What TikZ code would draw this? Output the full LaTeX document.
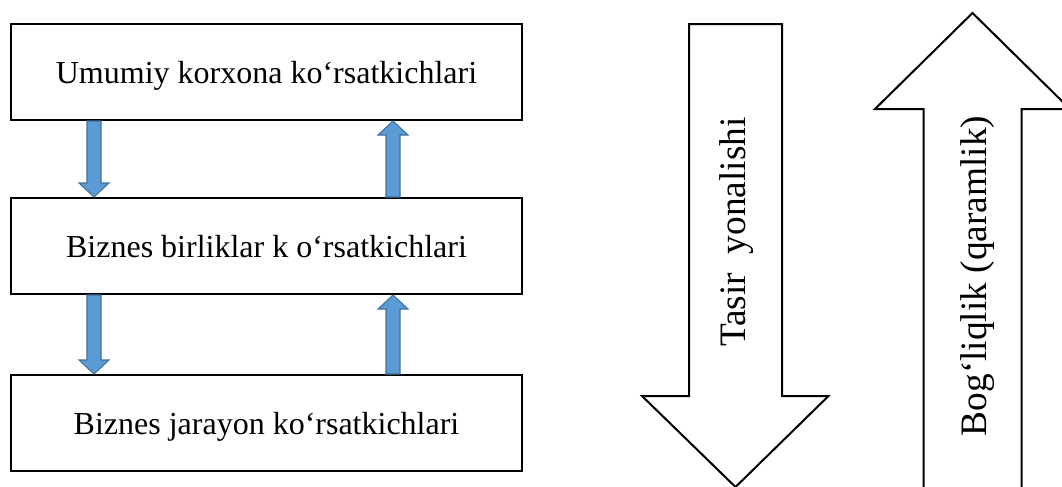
\documentclass[tikz,border=0pt]{standalone}
\usepackage{fontspec}
\setmainfont{Liberation Serif}
\usetikzlibrary{calc}
\tikzset{
  box/.style={draw=black, line width=1.5pt, fill=white, minimum width=383.25pt, minimum height=72pt, inner sep=0pt, text height=20pt, text depth=2.2pt, font=\fontsize{24}{28}\selectfont},
  barrow/.style={fill=arrowblue, draw=arrowedge, line width=0.8pt, line join=miter},
  bigarrow/.style={draw=black, line width=1.5pt, fill=white, line join=miter},
  biglabel/.style={rotate=90, inner sep=0pt, font=\fontsize{28}{32}\selectfont},
}
\definecolor{arrowblue}{HTML}{5B9BD5}
\definecolor{arrowedge}{HTML}{41719C}
\newcommand{\blockarrow}[2]{%
  \coordinate (ba-hb) at ($(#2)!10.5pt!(#1)$);
  \filldraw[barrow]
    ($(#1)!5.25pt!90:(#2)$) -- ($(ba-hb)!5.25pt!90:(#2)$) -- ($(ba-hb)!11.25pt!90:(#2)$)
    -- (#2) -- ($(ba-hb)!11.25pt!-90:(#2)$) -- ($(ba-hb)!5.25pt!-90:(#2)$)
    -- ($(#1)!5.25pt!-90:(#2)$) -- cycle;
}
\begin{document}
\begin{tikzpicture}[x=0.75pt, y=-0.75pt]
  \useasboundingbox (0,0) rectangle (1062,486);
  \clip (0,0) rectangle (1062,486);
  % boxes
  \node[box] (b1) at (266.5,72) {Umumiy korxona ko‘rsatkichlari};
  \node[box] (b2) at (266.5,246) {Biznes birliklar k o‘rsatkichlari};
  \node[box] (b3) at (266.5,423) {Biznes jarayon ko‘rsatkichlari};
  % columns for the small arrows
  \coordinate (cL) at (94,0);
  \coordinate (cR) at (393,0);
  \coordinate (d1s) at (b1.south -| cL);
  \coordinate (d1e) at (b2.north -| cL);
  \coordinate (u1s) at (b2.north -| cR);
  \coordinate (u1e) at (b1.south -| cR);
  \coordinate (d2s) at (b2.south -| cL);
  \coordinate (d2e) at (b3.north -| cL);
  \coordinate (u2s) at (b3.north -| cR);
  \coordinate (u2e) at (b2.south -| cR);
  \blockarrow{d1s}{d1e}
  \blockarrow{u1s}{u1e}
  \blockarrow{d2s}{d2e}
  \blockarrow{u2s}{u2e}
  % big down arrow
  \draw[bigarrow] (689,24) -- (782,24) -- (782,396) -- (828.5,396) -- (735.5,487)
    -- (642,396) -- (689,396) -- cycle;
  \node[biglabel] (t1) at (737,232) {Tasir\ \ yonalishi};
  % big up arrow
  \draw[bigarrow] (923.5,500) -- (923.5,109) -- (875,109) -- (972.5,13) -- (1070,109)
    -- (1021.5,109) -- (1021.5,500);
  \node[biglabel] (t2) at (978,276) {Bog‘liqlik (qaramlik)};
\end{tikzpicture}
\end{document}
